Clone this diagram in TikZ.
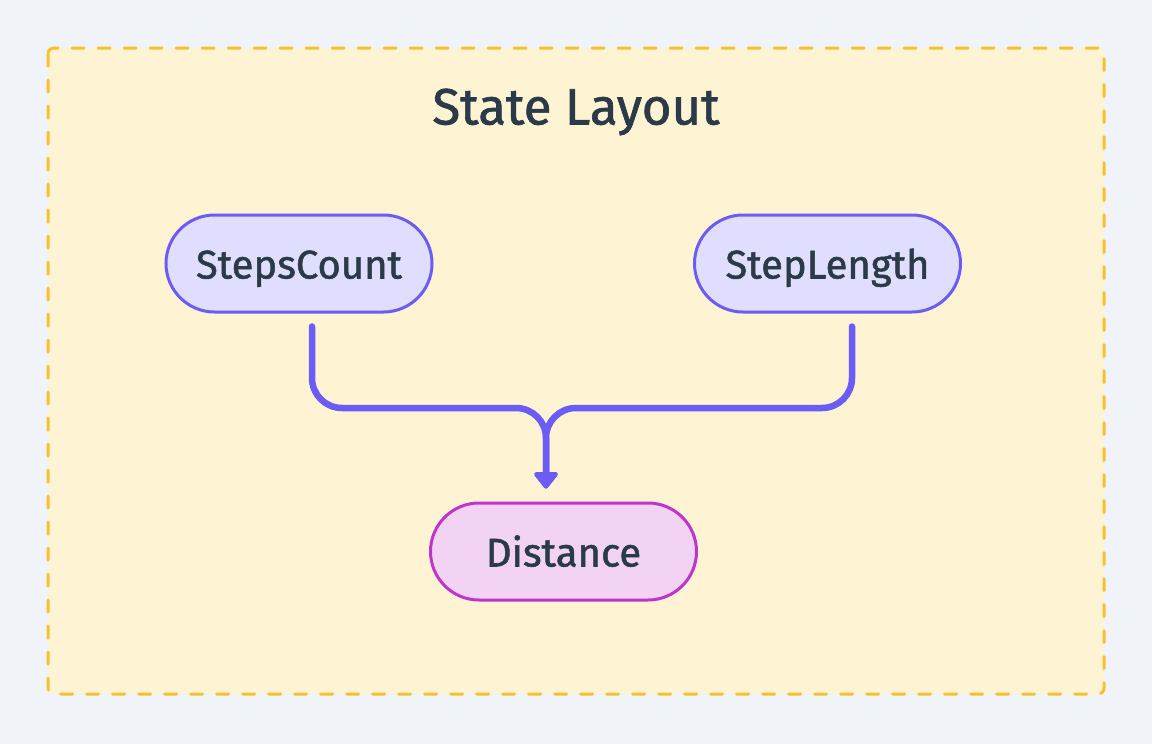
\documentclass[tikz,border=0pt]{standalone}
\usepackage{fontspec}
\setmainfont{Fira Sans}
\newfontfamily\medfont{Fira Sans}[FakeBold=1.3]
\usetikzlibrary{arrows.meta}
\definecolor{bgc}{HTML}{F0F3F7}
\definecolor{framefill}{HTML}{FEF3D3}
\definecolor{framedraw}{HTML}{F5C12E}
\definecolor{txt}{HTML}{2B3A48}
\definecolor{pfill}{HTML}{E0DEFE}
\definecolor{pdraw}{HTML}{6A5CF5}
\definecolor{mfill}{HTML}{F2D3F4}
\definecolor{mdraw}{HTML}{C034CC}
\tikzset{
  pill/.style={rounded corners=48.5pt, minimum width=266pt, minimum height=97pt, line width=3pt, inner sep=0pt, text height=30pt, text depth=0pt, text=txt, font=\medfont\fontsize{40}{44}\selectfont},
  inbox/.style={pill, fill=pfill, draw=pdraw},
  outbox/.style={pill, fill=mfill, draw=mdraw},
  flow/.style={draw=pdraw, line width=6.5pt, line cap=round, rounded corners=30pt, -{Triangle[width=27pt,length=18pt,round]}, shorten <=13pt, shorten >=13pt}
}
\begin{document}
\begin{tikzpicture}[x=1pt,y=-1pt]
\useasboundingbox (0,0) rectangle (1152,744);
\fill[bgc] (0,0) rectangle (1152,744);
\draw[framedraw, fill=framefill, line width=3pt, dash pattern=on 12pt off 14pt, line cap=round, rounded corners=6pt] (48,48) rectangle (1104,694);
\node[text=txt, font=\medfont\fontsize{51}{56}\selectfont] (title) at (576,112) {State Layout};
\node[inbox] (sc) at (299,263.5) {StepsCount};
\node[inbox] (sl) at (827.5,263.5) {StepLength};
\node[outbox] (dist) at (563.5,551.5) {Distance};
\coordinate (j) at (546,408);
\draw[flow] ([xshift=13pt]sc.south) |- (j) -- ([xshift=-17.5pt]dist.north);
\draw[flow] ([xshift=24.5pt]sl.south) |- (j) -- ([xshift=-17.5pt]dist.north);
\end{tikzpicture}
\end{document}
